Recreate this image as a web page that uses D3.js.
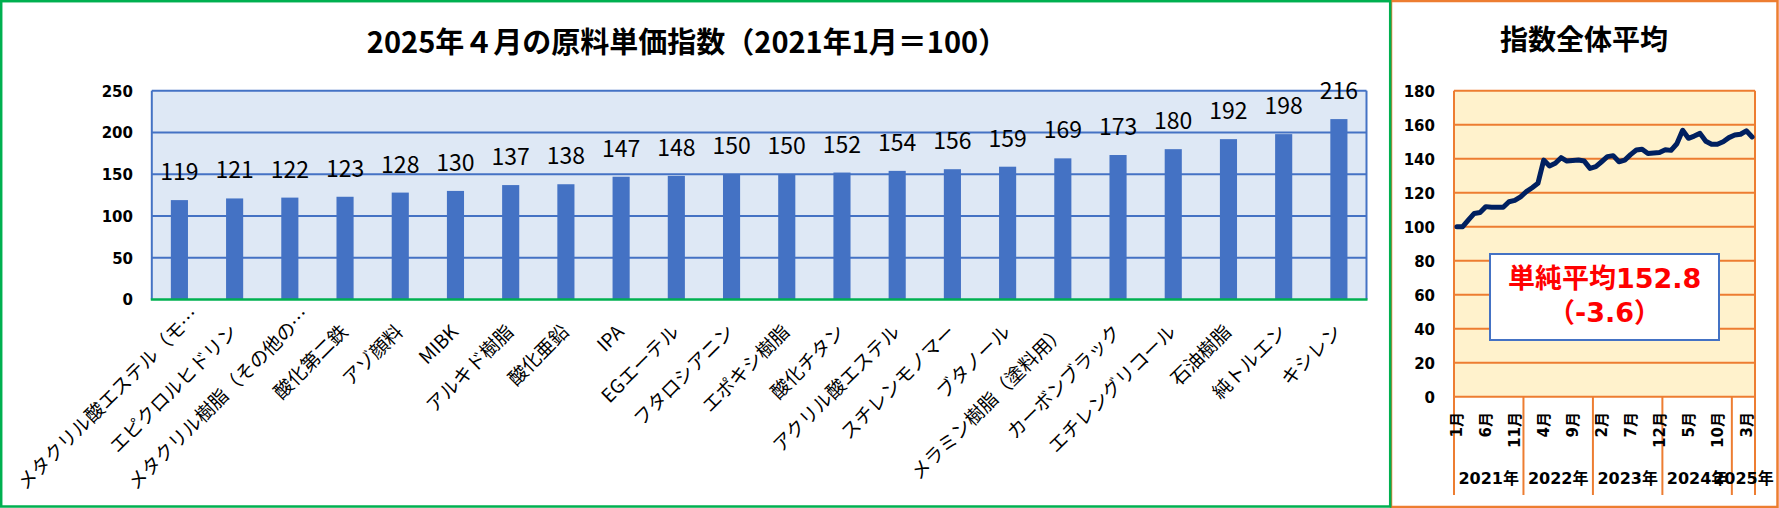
<!DOCTYPE html>
<html><head><meta charset="utf-8">
<script src="https://cdn.jsdelivr.net/npm/d3@7"></script>
<style>
html,body{margin:0;padding:0;background:#fff;}
svg{display:block;}
</style></head>
<body><svg id="chart" width="1779" height="508"></svg>
<script>
// ---------- data ----------
const barTitle = "2025年４月の原料単価指数（2021年1月＝100）";
const categories = [
  "メタクリル酸エステル（モ…", "エピクロルヒドリン", "メタクリル樹脂（その他の…", "酸化第二鉄",
  "アゾ顔料", "MIBK", "アルキド樹脂", "酸化亜鉛", "IPA", "EGエーテル", "フタロシアニン",
  "エポキシ樹脂", "酸化チタン", "アクリル酸エステル", "スチレンモノマー", "ブタノール",
  "メラミン樹脂（塗料用）", "カーボンブラック", "エチレングリコール", "石油樹脂", "純トルエン", "キシレン"
];
const values = [119,121,122,123,128,130,137,138,147,148,150,150,152,154,156,159,169,173,180,192,198,216];
const barTicks = [0,50,100,150,200,250];

const lineTitle = "指数全体平均";
const yearLabels = ["2021年","2022年","2023年","2024年","2025年"];
const monthsPerYear = [12,12,12,12,4];
const avgValues = [
  100,100,104,107.8,108.4,111.8,111.4,111.4,111.4,114.7,115.5,117.6,
  120.6,122.9,125.5,139.2,135.7,137.3,140.6,138.6,139,139.2,138.6,134.3,
  135.3,138.2,141.2,141.8,138.2,139.2,142.4,145.1,145.6,143.1,143.4,143.7,
  145.3,144.9,148.8,156.7,152,153.3,154.9,150.3,148.5,148.5,150,152.4,
  153.9,154.4,156.4,152.8
];
const lineTicks = [0,20,40,60,80,100,120,140,160,180];
const annotation = ["単純平均152.8","（-3.6）"];

// ---------- drawing ----------
const svg = d3.select("#chart");
const JP = "'Noto Sans CJK JP', sans-serif";
const NUM = "'DejaVu Sans', 'Noto Sans CJK JP', sans-serif";

// frames
svg.append("rect").attr("x",1391).attr("y",1).attr("width",386.5).attr("height",506)
  .attr("fill","#fff").attr("stroke","#ED7D31").attr("stroke-width",2.5);
svg.append("rect").attr("x",1.2).attr("y",1.2).attr("width",1389).attr("height",505.3)
  .attr("fill","none").attr("stroke","#00B050").attr("stroke-width",2.5);

// ===== bar chart =====
const bx = d3.scaleBand().domain(categories).range([151.8,1366.5]).paddingInner(0.69).paddingOuter(0.345);
const by = d3.scaleLinear().domain([0,250]).range([299.5,90.7]);
const bg = svg.append("g");
bg.append("rect").attr("x",151.8).attr("y",by(250)).attr("width",1366.5-151.8).attr("height",by(0)-by(250))
  .attr("fill","#DEE8F5");
bg.selectAll(".grid").data(barTicks.filter(d=>d>0)).join("line")
  .attr("x1",151.8).attr("x2",1366.5).attr("y1",d=>by(d)).attr("y2",d=>by(d))
  .attr("stroke","#4472C4").attr("stroke-width",2);
bg.append("line").attr("x1",151.8).attr("x2",151.8).attr("y1",by(250)).attr("y2",by(0)).attr("stroke","#4472C4").attr("stroke-width",2);
bg.append("line").attr("x1",1366.5).attr("x2",1366.5).attr("y1",by(250)).attr("y2",by(0)).attr("stroke","#4472C4").attr("stroke-width",2);
bg.selectAll(".bar").data(values).join("rect")
  .attr("x",(d,i)=>bx(categories[i])).attr("width",bx.bandwidth())
  .attr("y",d=>by(d)).attr("height",d=>by(0)-by(d)).attr("fill","#4472C4");
bg.append("line").attr("x1",150.8).attr("x2",1367.5).attr("y1",by(0)).attr("y2",by(0)).attr("stroke","#00B050").attr("stroke-width",2.5);

// y axis
const byAxis = d3.axisLeft(by).tickValues(barTicks).tickSize(0).tickPadding(0);
const byG = bg.append("g").attr("transform","translate(133,0)").call(byAxis);
byG.select(".domain").remove();
byG.selectAll("text").attr("font-family",NUM).attr("font-weight","bold").attr("font-size",15).attr("fill","#000").attr("dy","0.36em");

// data labels
bg.selectAll(".lbl").data(values).join("text")
  .attr("x",(d,i)=>bx(categories[i])+bx.bandwidth()/2).attr("y",d=>by(d)-20)
  .attr("text-anchor","middle").attr("font-family",JP).attr("font-size",23).attr("fill","#000")
  .text(d=>d);

// x labels
bg.selectAll(".xl").data(categories).join("text")
  .attr("transform",d=>`translate(${bx(d)+bx.bandwidth()/2+4},333) rotate(-45)`)
  .attr("dx",d=>d.endsWith("…")?"1.25em":0)
  .attr("text-anchor","end").attr("font-family",JP).attr("font-size",19).attr("fill","#000")
  .text(d=>d);

// title
svg.append("text").attr("x",687).attr("y",52.5).attr("text-anchor","middle")
  .attr("font-family",JP).attr("font-weight","bold").attr("font-size",29).attr("fill","#000").text(barTitle);

// ===== line chart =====
const monthLabels = [];
monthsPerYear.forEach(n=>{ for(let m=1;m<=n;m++) monthLabels.push(m+"月"); });
const idx = d3.range(avgValues.length);
const lx = d3.scaleBand().domain(idx).range([1454,1755]).padding(0);
const ly = d3.scaleLinear().domain([0,180]).range([396.7,90.7]);
const lg = svg.append("g");
lg.append("rect").attr("x",1454).attr("y",ly(180)).attr("width",301).attr("height",ly(0)-ly(180)).attr("fill","#FFF2CC");
lg.selectAll(".lgrid").data(lineTicks).join("line")
  .attr("x1",1454).attr("x2",1755).attr("y1",d=>ly(d)).attr("y2",d=>ly(d))
  .attr("stroke","#ED7D31").attr("stroke-width",2);
// year separators
const bounds = [0];
monthsPerYear.forEach(n=>bounds.push(bounds[bounds.length-1]+n));
lg.selectAll(".sep").data(bounds).join("line")
  .attr("x1",d=>d<idx.length?lx(d):1755).attr("x2",d=>d<idx.length?lx(d):1755)
  .attr("y1",d=>(d===0||d===idx.length)?ly(180):ly(0)).attr("y2",495)
  .attr("stroke","#ED7D31").attr("stroke-width",2);

const lyAxis = d3.axisLeft(ly).tickValues(lineTicks).tickSize(0).tickPadding(0);
const lyG = lg.append("g").attr("transform","translate(1435,0)").call(lyAxis);
lyG.select(".domain").remove();
lyG.selectAll("text").attr("font-family",NUM).attr("font-weight","bold").attr("font-size",15).attr("fill","#000").attr("dy","0.36em");

// month labels (every 5th)
lg.selectAll(".ml").data(idx.filter(i=>i%5===0)).join("text")
  .attr("transform",i=>`translate(${lx(i)+lx.bandwidth()/2},412) rotate(-90)`)
  .attr("dy","0.36em").attr("text-anchor","end")
  .attr("font-family",NUM).attr("font-weight","bold").attr("font-size",15).attr("fill","#000")
  .text(i=>monthLabels[i]);
// year labels
lg.selectAll(".yl").data(yearLabels).join("text")
  .attr("x",(d,i)=>{const a=lx(bounds[i]); const b=bounds[i+1]<idx.length?lx(bounds[i+1]):1755; return (a+b)/2;})
  .attr("y",484).attr("text-anchor","middle")
  .attr("font-family",NUM).attr("font-weight","bold").attr("font-size",16).attr("fill","#000")
  .text(d=>d);

// line
const line = d3.line().x((d,i)=>lx(i)+lx.bandwidth()/2).y(d=>ly(d));
lg.append("path").datum(avgValues).attr("d",line).attr("fill","none")
  .attr("stroke","#002060").attr("stroke-width",5).attr("stroke-linejoin","round").attr("stroke-linecap","round");

// annotation
lg.append("rect").attr("x",1490).attr("y",254).attr("width",229).attr("height",86)
  .attr("fill","#fff").attr("stroke","#4472C4").attr("stroke-width",2);
lg.selectAll(".ann").data(annotation).join("text")
  .attr("x",1604.6).attr("y",(d,i)=>287.5+i*34).attr("text-anchor","middle")
  .attr("font-family",NUM).attr("font-weight","bold").attr("font-size",27).attr("fill","#FF0000")
  .text(d=>d);

svg.append("text").attr("x",1584).attr("y",50).attr("text-anchor","middle")
  .attr("font-family",JP).attr("font-weight","bold").attr("font-size",28).attr("fill","#000").text(lineTitle);
</script>
</body></html>
